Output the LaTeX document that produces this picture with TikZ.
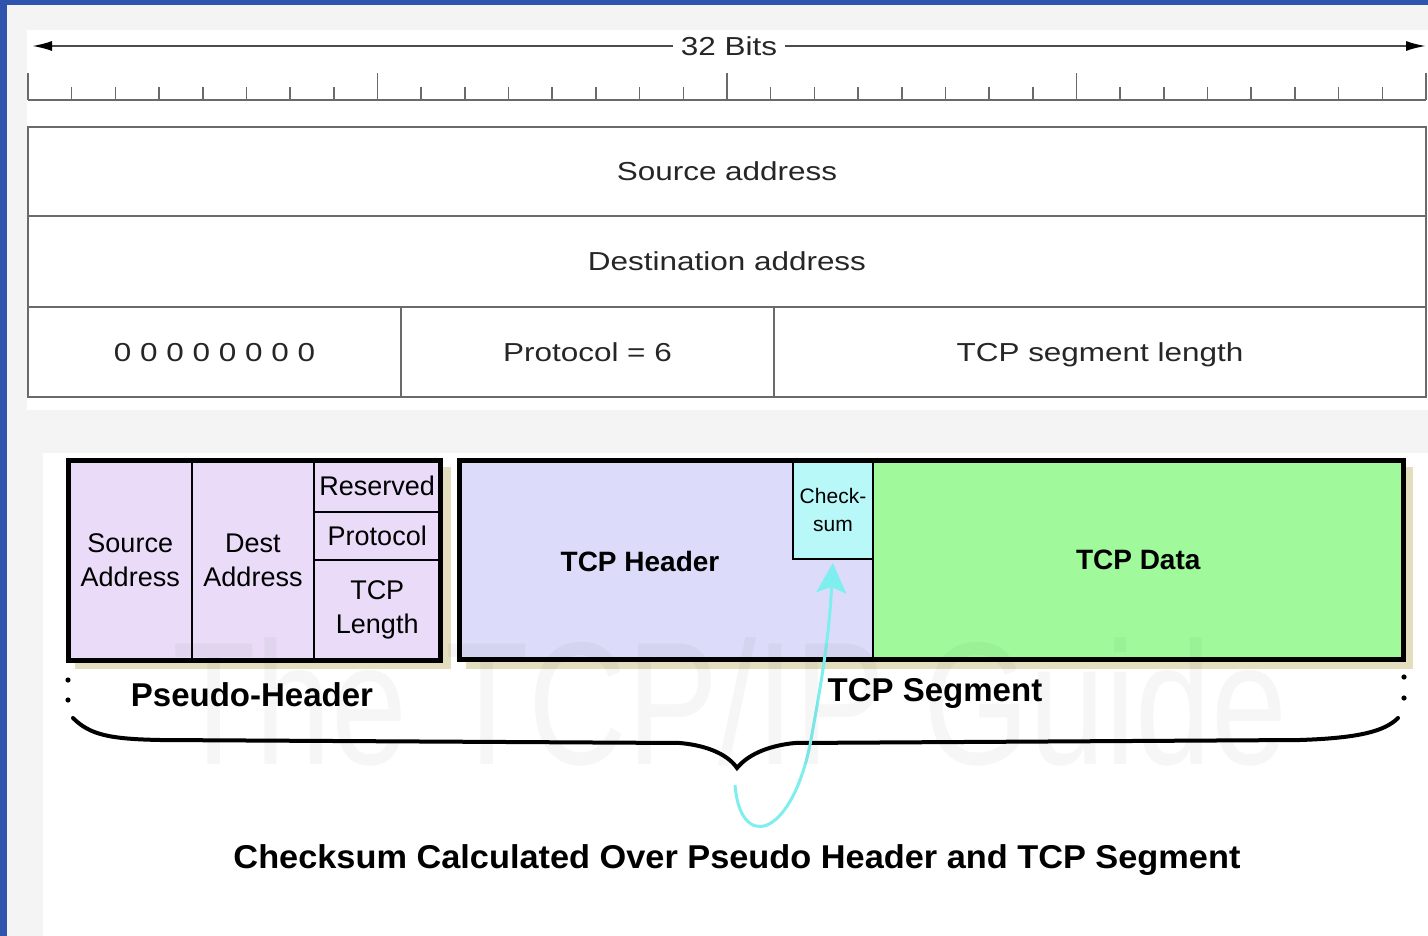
\documentclass[tikz,border=0pt]{standalone}
\usepackage{fontspec}
\setmainfont{Liberation Sans}
\newfontfamily\topfont[FakeStretch=1.21]{Liberation Sans}
\newfontfamily\capfont[FakeStretch=1.04]{Liberation Sans}
\newfontfamily\wmfont[FakeStretch=0.78]{Liberation Sans}
\usetikzlibrary{arrows.meta}
\definecolor{slideblue}{HTML}{2F54AE}
\definecolor{pagegray}{HTML}{F4F4F4}
\definecolor{rulegray}{HTML}{6A6A6A}
\definecolor{pseudoc}{HTML}{EADCF8}
\definecolor{tcphdr}{HTML}{DCDCFA}
\definecolor{cksumc}{HTML}{B8F8F8}
\definecolor{tcpdata}{HTML}{A0FA9C}
\definecolor{shadowc}{HTML}{E2DEBE}
\definecolor{arrowcyan}{HTML}{7EEEEE}
\tikzset{
  toptext/.style={font=\topfont\fontsize{26}{30}\selectfont, text=black!85},
  rowcell/.style={draw=rulegray, line width=2pt, inner sep=0pt, outer sep=0pt, toptext,
    text height=19pt, text depth=0pt},
  rulerline/.style={draw=rulegray, line width=1.6pt},
  cell/.style={draw=black, line width=1.5pt, inner sep=0pt, outer sep=0pt, align=center,
    font=\fontsize{27}{34}\selectfont},
  bigbox/.style={draw=black, line width=5pt, inner sep=0pt, outer sep=0pt},
  boldlabel/.style={font=\bfseries\fontsize{33}{38}\selectfont, inner sep=0pt},
  cellbold/.style={font=\bfseries\fontsize{28}{34}\selectfont},
  bracestyle/.style={draw=black, line width=4pt, line cap=round},
  dotstyle/.style={fill=black},
  cyanloop/.style={draw=arrowcyan, line width=3pt, -{Stealth[length=30pt,width=30pt,inset=6pt]}},
  bitsarrow/.style={draw=black!70, line width=2pt, -{Latex[length=20pt,width=10pt,color=black]}},
  watermark/.style={font=\wmfont\fontsize{175}{175}\selectfont, text=black, text opacity=0.035}
}
\begin{document}
\begin{tikzpicture}[x=1pt,y=-1pt]
% background
\fill[pagegray] (0,0) rectangle (1428,936);
\fill[white] (27,30) rectangle (1428,410);
\fill[white] (43,453) rectangle (1428,936);
\fill[slideblue] (0,0) rectangle (1428,5);
\fill[slideblue] (0,0) rectangle (7,936);
\useasboundingbox (0,0) rectangle (1428,936);

% 32 bits arrow
\node[toptext, inner xsep=8pt, inner ysep=0pt] (bits) at (729,46) {32 Bits};
\coordinate (bitsL) at (32,46);
\coordinate (bitsR) at (1426,46);
\draw[bitsarrow] (bits) -- (bitsL);
\draw[bitsarrow] (bits) -- (bitsR);

% ruler
\draw[rulerline] (28,100) -- (1426,100);
\foreach \i in {0,...,32}{
  \pgfmathsetmacro\tx{28+\i*43.6875}
  \pgfmathsetmacro\ty{mod(\i,8)==0 ? 73 : 87}
  \draw[rulerline] (\tx,100) -- (\tx,\ty);
}

% pseudo header rows (top)
\node[rowcell, minimum width=1398pt, minimum height=89pt] (srcaddr) at (727,171.5) {Source address};
\node[rowcell, minimum width=1398pt, minimum height=91pt] (dstaddr) at (727,261.5) {Destination address};
\node[rowcell, minimum width=373pt, minimum height=90pt] (zeros) at (214.5,352) {0 0 0 0 0 0 0 0};
\node[rowcell, minimum width=373pt, minimum height=90pt] (proto) at (587.5,352) {Protocol = 6};
\node[rowcell, minimum width=652pt, minimum height=90pt] (seglen) at (1100,352) {TCP segment length};

% shadows
\fill[shadowc] (75,467) rectangle (451,669);
\fill[shadowc] (466,467) rectangle (1413,669);

% pseudo-header block
\node[cell, fill=pseudoc, minimum width=123.5pt, minimum height=200pt] (psrc) at (130.25,560.5) {Source\\Address};
\node[cell, fill=pseudoc, minimum width=122pt, minimum height=200pt] (pdst) at (253,560.5) {Dest\\Address};
\node[cell, fill=pseudoc, minimum width=126.5pt, minimum height=51.5pt] (pres) at (377.25,486.25) {Reserved};
\node[cell, fill=pseudoc, minimum width=126.5pt, minimum height=48pt] (pprot) at (377.25,536) {Protocol};
\node[cell, fill=pseudoc, minimum width=126.5pt, minimum height=100.5pt] (plen) at (377.25,610.25) {TCP\\Length};
\node[bigbox, minimum width=372pt, minimum height=200pt] (pseudobox) at (254.5,560.5) {};

% TCP segment block
\node[cell, fill=tcphdr, minimum width=413.5pt, minimum height=199pt] (thdr) at (666.25,560) {};
\node[cellbold] (thdrlabel) at (640,561) {TCP Header};
\node[cell, fill=cksumc, minimum width=80pt, minimum height=98.5pt, font=\fontsize{21}{28}\selectfont] (cksum) at (833,509.75) {Check-\\sum};
\node[cell, fill=tcpdata, minimum width=530.5pt, minimum height=199pt, cellbold] (tdata) at (1138.25,560) {TCP Data};
\node[bigbox, minimum width=944pt, minimum height=199pt] (segbox) at (931.5,560) {};

% dots at the ends of the brace
\fill[dotstyle] (68,680) circle (2.6);
\fill[dotstyle] (68,700) circle (2.6);
\fill[dotstyle] (1404,677) circle (2.6);
\fill[dotstyle] (1404,698) circle (2.6);

% brace
\coordinate (braceL) at (73,718);
\coordinate (braceTip) at (737,768);
\coordinate (braceR) at (1398,718);
\draw[bracestyle] (braceL) .. controls (90,735) and (110,739) .. (160,740) -- (680,743)
  .. controls (702,745) and (726,752) .. (braceTip)
  .. controls (750,752) and (774,745) .. (795,743) -- (1300,740)
  .. controls (1360,738) and (1385,731) .. (braceR);

% checksum loop arrow
\coordinate (loopStart) at (735,785);
\draw[cyanloop, shorten >=4pt] (loopStart) .. controls (740,850) and (790,840) .. (810,745)
  .. controls (820,690) and (829,640) .. (cksum.south);

% labels
\node[boldlabel] (phlabel) at (252,695) {Pseudo-Header};
\node[boldlabel] (seglabel) at (935,693) {TCP Segment};
\node[font=\capfont\bfseries\fontsize{33}{38}\selectfont, inner sep=0pt] (caption) at (737,860) {Checksum Calculated Over Pseudo Header and TCP Segment};

% watermark
\node[watermark] (wm) at (730,702) {The TCP/IP Guide};
\end{tikzpicture}
\end{document}
